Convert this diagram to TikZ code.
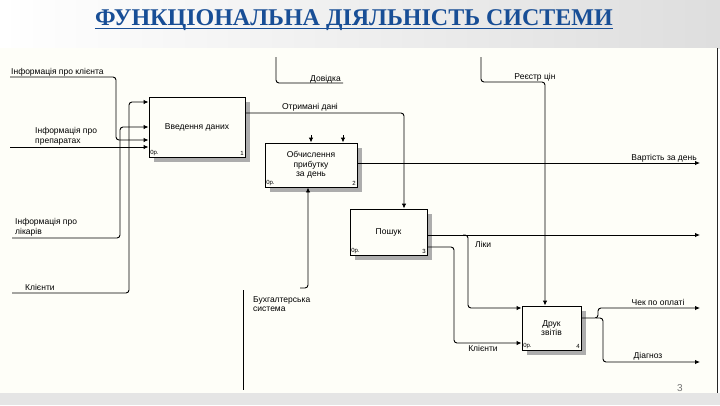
\documentclass[tikz,border=0pt]{standalone}
\usepackage{fontspec}
\setmainfont{Liberation Serif}
\setsansfont{Liberation Sans}
\usetikzlibrary{arrows.meta,positioning,calc,shadows}
\definecolor{titleblue}{RGB}{24,78,150}
\definecolor{paper}{RGB}{254,254,248}
\newcommand\idefont{\sffamily\fontsize{8.5}{9.5}\selectfont}
\tikzset{
  act/.style  = {draw, line width=0.9pt, fill=paper, rectangle, inner sep=1pt,
                 align=center, font=\idefont,
                 drop shadow={shadow xshift=5pt, shadow yshift=-5pt,
                              fill=black!32, opacity=1}},
  sig/.style  = {-{Latex[length=5pt,width=4.5pt]}, line width=0.9pt,
                 rounded corners=3pt},
  wire/.style = {line width=0.9pt, rounded corners=3pt},
  lab/.style  = {font=\idefont, inner sep=1pt, align=left},
  num/.style  = {font=\sffamily\fontsize{6}{7}\selectfont, inner sep=1.5pt},
}

\begin{document}
\begin{tikzpicture}[x=1pt, y=-1pt]
\useasboundingbox (0,0) rectangle (720,405);
% slide background
\shade[left color=white, right color=black!13] (0,0) rectangle (720,48);
\fill[black!10] (0,393) rectangle (720,405);
\fill[paper] (0,48) rectangle (717,393);
\draw[black!85, line width=1pt] (717,48) -- (717,393);
% title
\node[font=\bfseries\fontsize{24}{27}\selectfont, text=titleblue, inner sep=0pt]
  (title) at (354,20) {ФУНКЦІОНАЛЬНА ДІЯЛЬНІСТЬ СИСТЕМИ};
\draw[titleblue, line width=1.3pt]
  ($(title.base west)+(0,3)$) -- ($(title.base east)+(0,3)$);
% activities
\node[act, minimum width=96pt, minimum height=60pt] (b1) at (197,127) {Введення даних};
\node[act, minimum width=92pt, minimum height=44pt] (b2) at (311,165)
  {Обчислення\\прибутку\\за день};
\node[act, minimum width=77pt, minimum height=46pt] (b3) at (388.5,232) {Пошук};
\node[act, minimum width=59pt, minimum height=44pt] (b4) at (551.5,328) {Друк\\звітів};
\foreach \b/\n in {b1/1, b2/2, b3/3, b4/4} {
  \node[num, anchor=south west] at (\b.south west) {0р.};
  \node[num, anchor=south east] at (\b.south east) {\n};
}
% inputs of b1
\coordinate (klient) at (10,77);
\coordinate (prep) at (10,147);
\coordinate (likar) at (12,238);
\coordinate (kl) at (12,293);
\node[lab, anchor=south west] at (klient) {Інформація про клієнта};
\node[lab, anchor=south west] at (34,146) {Інформація про\\препаратах};
\node[lab, anchor=south west] at (14,237) {Інформація про\\лікарів};
\node[lab, anchor=south west] at (24,292) {Клієнти};
\draw[sig] (klient) -- (116,77) -- (116,140) -- (b1.west |- 0,140);
\draw[sig] (prep) -- (b1.west |- prep);
\draw[sig] (likar) -- (120,238) -- (120,127) -- (b1.west |- 0,127);
\draw[sig] (kl) -- (129,293) -- (129,102) -- (b1.west |- 0,102);
% b1 -> b3
\draw[sig] (b1.east |- 0,113) -- (404,113) -- (b3.north -| 404,0);
\node[lab, anchor=south] at (310,112) {Отримані дані};
% controls and mechanism of b2
\draw[sig] (311,135) -- (b2.north -| 311,0);
\draw[sig] (343,135) -- (b2.north -| 343,0);
\coordinate (buh) at (300,288);
\draw[sig] (buh) -- (308,288) -- (b2.south -| 308,0);
\node[lab, anchor=north west] at (252,295) {Бухгалтерська\\система};
\coordinate (buhtop) at (243,290);
\draw[wire] (buhtop) -- (243,390);
% output of b2
\coordinate (vart) at (700,163);
\draw[sig] (b2.east |- vart) -- (vart);
\node[lab, anchor=south east] at (698,163) {Вартість за день};
% tunnelled inputs from above
\coordinate (dov) at (276,57);
\draw[wire] (dov) -- (276,83) -- (343,83);
\node[lab, anchor=south east] at (342,84) {Довідка};
\coordinate (reg) at (481,57);
\draw[sig] (reg) -- (481,82) -- (545,82) -- (b4.north -| 545,0);
\node[lab, anchor=south] at (535,82) {Реєстр цін};
% outputs of b3
\coordinate (liky) at (700,235);
\draw[sig] (b3.east |- liky) -- (liky);
\draw[sig] (463,235) -- (468,235) -- (468,308) -- (b4.west |- 0,308);
\node[lab, anchor=west] at (474,244) {Ліки};
\draw[sig] (b3.east |- 0,247) -- (454,247) -- (454,343) -- (b4.west |- 0,343);
\node[lab, anchor=north] at (483,344) {Клієнти};
% outputs of b4
\coordinate (chek) at (700,308);
\draw[sig] (b4.east |- 0,318) -- (598,318) -- (598,308) -- (chek);
\node[lab, anchor=south] at (658,307) {Чек по оплаті};
\coordinate (diag) at (700,362);
\draw[sig] (596,318) -- (603,318) -- (603,362) -- (diag);
\node[lab, anchor=south] at (648,361) {Діагноз};
% page number
\node[font=\sffamily\fontsize{10}{12}\selectfont, text=black!55] (page) at (680,388) {3};
\end{tikzpicture}
\end{document}
